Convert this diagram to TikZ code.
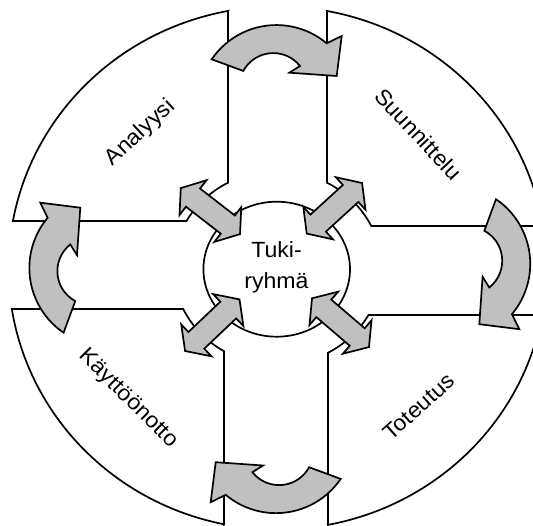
\documentclass[tikz,border=0pt]{standalone}
\usepackage{fontspec}
\setmainfont{Liberation Sans}[FakeStretch=1.05]
\usetikzlibrary{shapes.geometric}
\definecolor{arrowgray}{HTML}{C0C0C0}
\tikzset{
  inkline/.style={draw=black, line width=1.7pt, line join=miter},
  phase/.style={inkline, fill=white},
  blockarrow/.style={inkline, fill=arrowgray},
  phasetext/.style={font=\fontsize{22}{31}\selectfont, inner sep=0pt},
  % curved block arrow, drawn as the one over the top gap (clockwise)
  pics/turnarrow/.style={code={
    \path[blockarrow] (-64.7,-43.9) arc[start angle=-145.8,end angle=-50,radius=78.2]
      -- (65.3,-67.2) -- (60.3,-27.2) -- (12.9,-30.5) -- (23.6,-37.2)
      arc[start angle=-38.4,end angle=-151.6,radius=34.1] -- cycle;}},
  % straight double-headed block arrow along the x axis
  pics/twoway/.style={code={
    \path[blockarrow] (-37.5,0) -- (-22,-22) -- (-22,-11.5) -- (22,-11.5) -- (22,-22)
      -- (37.5,0) -- (22,22) -- (22,11.5) -- (-22,11.5) -- (-22,22) -- cycle;}}
}
\begin{document}
\begin{tikzpicture}[x=1pt,y=-1pt]
\useasboundingbox (0,0) rectangle (533,526);
\clip (0,0) rectangle (533,526);

% four phase sectors of the outer ring
\path[phase] (228,11.0) -- (228,182.7)
  arc[start angle=-118.42,end angle=-151.02,x radius=104,y radius=97]
  -- (12.9,221)
  arc[start angle=-169.65,end angle=-100.60,x radius=269,y radius=261.5] -- cycle;
\path[phase] (327,11.0) -- (327,182.7)
  arc[start angle=-61.58,end angle=-25.66,x radius=104,y radius=97]
  -- (543.0,226)
  arc[start angle=-9.24,end angle=-79.40,x radius=269,y radius=261.5] -- cycle;
\path[phase] (224,524.3) -- (224,351.2)
  arc[start angle=120.96,end angle=155.0,x radius=104,y radius=97]
  -- (11.83,309)
  arc[start angle=170.98,end angle=101.47,x radius=269,y radius=261.5] -- cycle;
\path[phase] (328,524.9) -- (328,352.8)
  arc[start angle=60.95,end angle=28.98,x radius=104,y radius=97]
  -- (542.1,315)
  arc[start angle=10.35,end angle=79.18,x radius=269,y radius=261.5] -- cycle;

% support group hub
\node[phase, ellipse, minimum width=146.6pt, minimum height=135pt, inner sep=0pt] (hub) at (276.7,269.2) {};
\node[phasetext, align=center] (hubtext) at (276.5,267.3) {Tuki-\\ryhmä};

% two-way links between hub and phases
\pic[rotate=-37.8] at (210.4,211.1) {twoway};
\pic[rotate=42.4] at (334.4,208.3) {twoway};
\pic[rotate=43.5] at (212.3,325.2) {twoway};
\pic[rotate=-40.6] at (340.5,322.7) {twoway};

% clockwise flow between phases
\pic at (276.4,103.2) {turnarrow};
\pic[rotate=-90] at (452.1,263.9) {turnarrow};
\pic[rotate=180] at (276,435) {turnarrow};
\pic[rotate=90] at (107.5,268) {turnarrow};

% phase names
\node[phasetext, rotate=43] (analyysi) at (140.5,132.8) {Analyysi};
\node[phasetext, rotate=-47] (suunnittelu) at (418.5,134) {Suunnittelu};
\node[phasetext, rotate=-45] (kaytto) at (128.3,399) {Käyttöönotto};
\node[phasetext, rotate=42] (toteutus) at (418.8,406.8) {Toteutus};
\end{tikzpicture}
\end{document}
